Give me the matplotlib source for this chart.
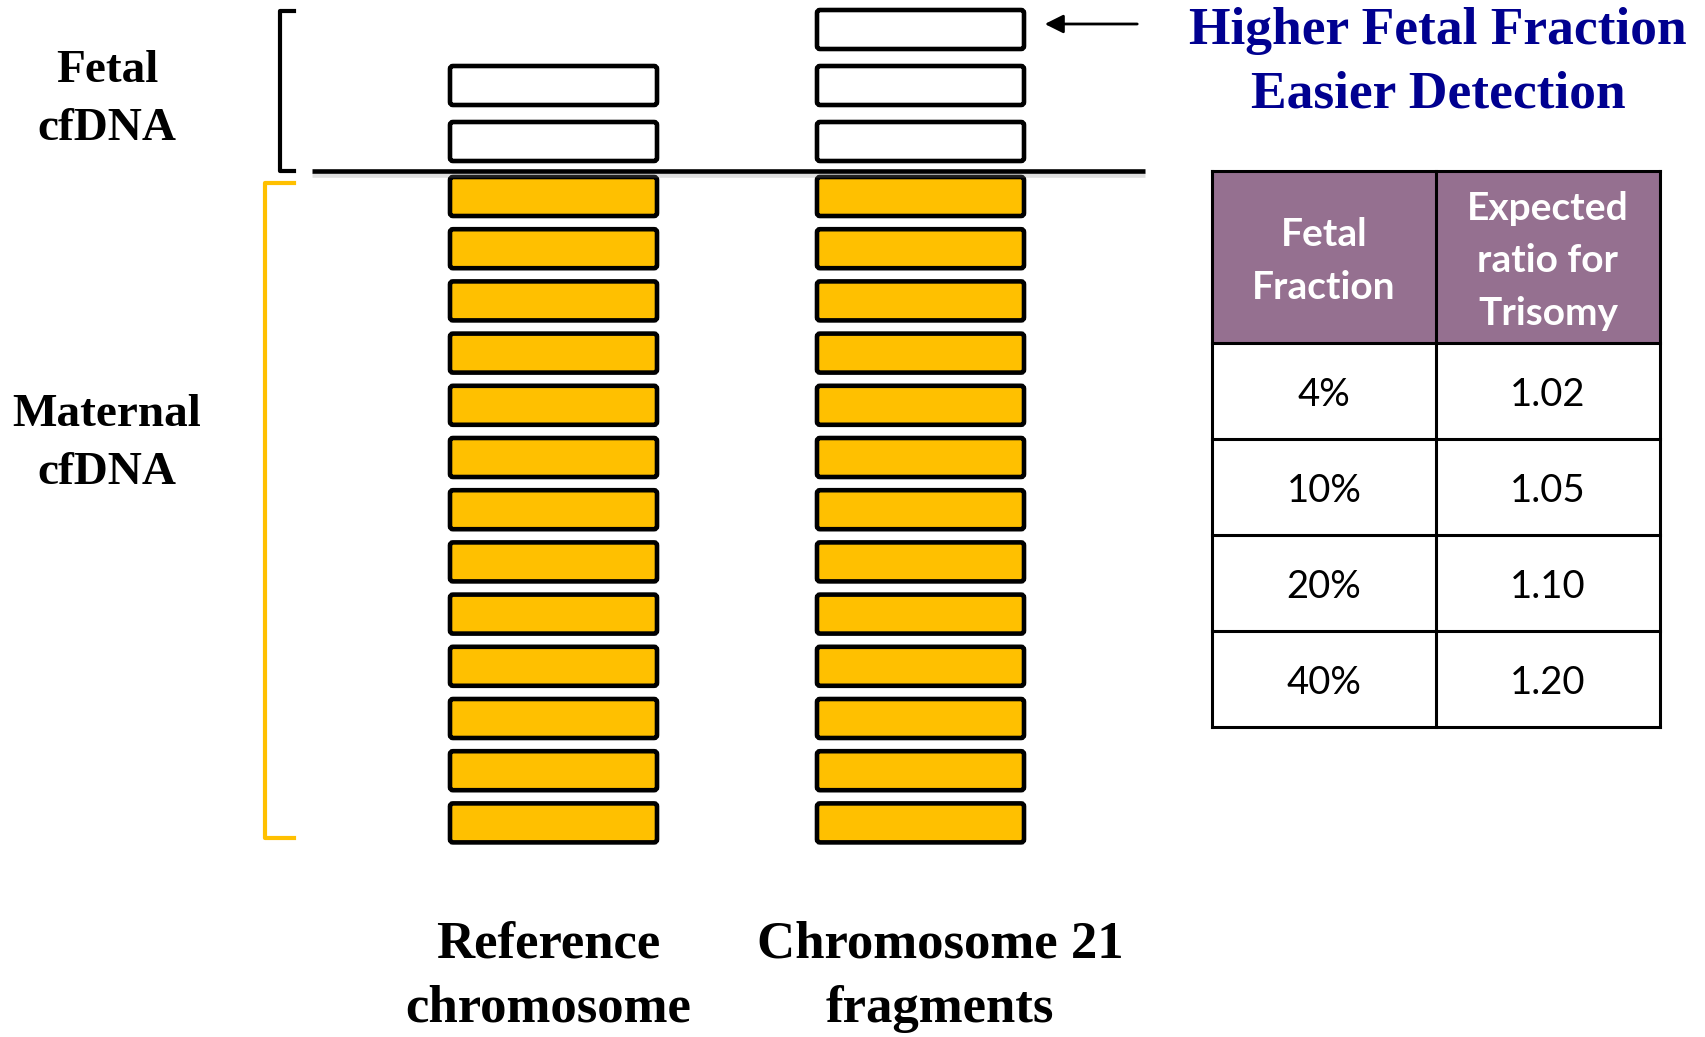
import matplotlib.pyplot as plt
import matplotlib.patheffects as pe
from matplotlib.patches import FancyBboxPatch, Rectangle

# fragment counts per column
columns = ['Reference\nchromosome', 'Chromosome 21\nfragments']
fetal_counts = [2, 3]
maternal_counts = [13, 13]

# expected ratio table
fetal_fraction = [4, 10, 20, 40]
expected_ratio = [1.02, 1.05, 1.10, 1.20]
header = ['Fetal\nFraction', 'Expected\nratio for\nTrisomy']

yellow = '#FFC000'
navy = '#000090'
purple = '#957090'
serif = 'Liberation Serif'
sans = 'Lato'

fig = plt.figure(figsize=(17.06, 10.37), dpi=100)
ax = fig.add_axes([0, 0, 1, 1])
ax.set_xlim(0, 1706)
ax.set_ylim(1037, 0)
ax.axis('off')

# fragment stacks (pixel layout)
col_left = [450, 817]
label_x = [548, 940]
box_w = 207
box_h = 39
split_y = 171
fetal_step = 56
mat_top = 177
mat_step = 52.2

for i in range(len(columns)):
    x0 = col_left[i]
    for k in range(fetal_counts[i]):
        y0 = split_y - 10 - box_h - k * fetal_step
        ax.add_patch(FancyBboxPatch((x0, y0), box_w, box_h,
                                    boxstyle='round,pad=0,rounding_size=3',
                                    fc='white', ec='black', lw=3.3))
    for k in range(maternal_counts[i]):
        y0 = mat_top + k * mat_step
        ax.add_patch(FancyBboxPatch((x0, y0), box_w, box_h,
                                    boxstyle='round,pad=0,rounding_size=3',
                                    fc=yellow, ec='black', lw=3.3))
    top, bottom = columns[i].split('\n')
    ax.text(label_x[i], 945, top, ha='center', va='center',
            fontsize=38, fontweight='bold', family=serif)
    ax.text(label_x[i], 1009, bottom, ha='center', va='center',
            fontsize=38, fontweight='bold', family=serif)

# dividing line between fetal and maternal fragments
ax.plot([312, 1145], [split_y, split_y], color='black', lw=3.3, solid_capstyle='butt',
        path_effects=[pe.SimpleLineShadow(offset=(0, -3), shadow_color='gray', alpha=0.25),
                      pe.Normal()])

# brackets
ax.plot([294, 280, 280, 294], [11, 11, split_y, split_y], color='black', lw=3,
        solid_joinstyle='round')
ax.plot([294, 265, 265, 294], [183, 183, 838, 838], color=yellow, lw=3,
        solid_joinstyle='round')

for txt, y in [('Fetal', 71), ('cfDNA', 129), ('Maternal', 415), ('cfDNA', 473)]:
    ax.text(107, y, txt, ha='center', va='center', fontsize=34, fontweight='bold', family=serif)

# arrow and heading
ax.annotate('', xy=(1042, 24), xytext=(1140, 24),
            arrowprops=dict(arrowstyle='-|>', color='black', lw=2, mutation_scale=28))
ax.text(1438, 31, 'Higher Fetal Fraction', ha='center', va='center', color=navy,
        fontsize=38.5, fontweight='bold', family=serif)
ax.text(1438, 95, 'Easier Detection', ha='center', va='center', color=navy,
        fontsize=38.5, fontweight='bold', family=serif)

# table
tx = [1212, 1436, 1660]
ty_top = 171
ty_head = 343
row_h = 96
n_rows = len(fetal_fraction)

ax.add_patch(Rectangle((tx[0], ty_top), tx[2] - tx[0], ty_head - ty_top,
                       fc=purple, ec='none'))
ax.text((tx[0] + tx[1]) / 2, 261, header[0], ha='center', va='center', color='white',
        fontsize=28, fontweight='bold', family=sans, linespacing=1.62)
ax.text((tx[1] + tx[2]) / 2, 261, header[1], ha='center', va='center', color='white',
        fontsize=28, fontweight='bold', family=sans, linespacing=1.62)

for r in range(n_rows):
    yc = ty_head + row_h * (r + 0.5) + 4
    ax.text((tx[0] + tx[1]) / 2, yc, f'{fetal_fraction[r]}%', ha='center', va='center',
            fontsize=27.5, family=sans)
    ax.text((tx[1] + tx[2]) / 2, yc, f'{expected_ratio[r]:.2f}', ha='center', va='center',
            fontsize=27.5, family=sans)

ty_bot = ty_head + row_h * n_rows
for x in tx:
    ax.plot([x, x], [ty_top, ty_bot], color='black', lw=2.2, solid_capstyle='projecting')
for r in range(n_rows + 1):
    y = ty_head + row_h * r
    ax.plot([tx[0], tx[2]], [y, y], color='black', lw=2.2, solid_capstyle='projecting')
ax.plot([tx[0], tx[2]], [ty_top, ty_top], color='black', lw=2.2, solid_capstyle='projecting')

fig.savefig('out.png', dpi=100)
